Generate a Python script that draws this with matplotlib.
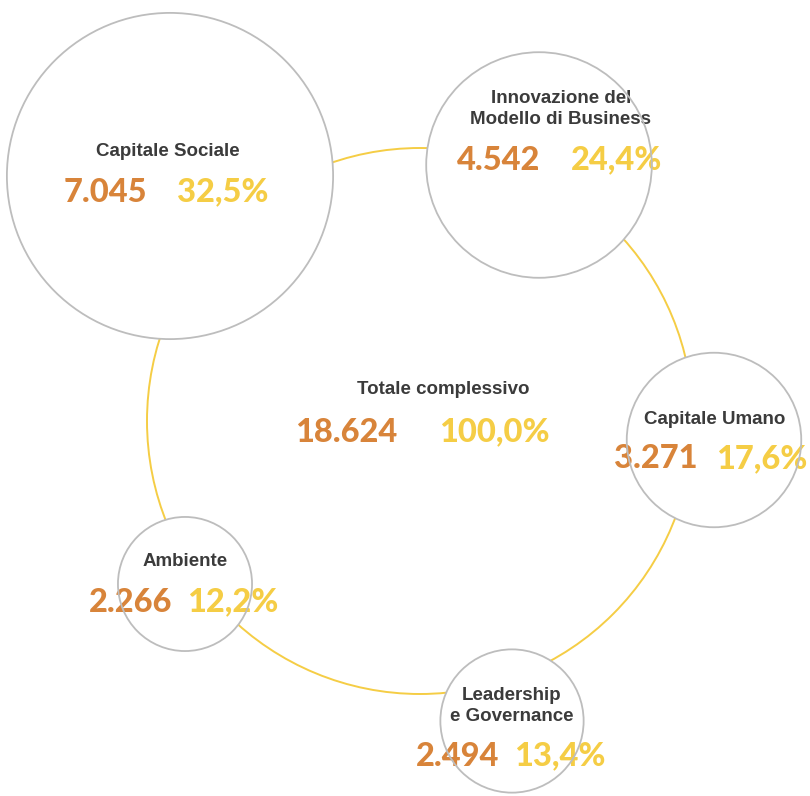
import matplotlib.pyplot as plt
from matplotlib.patches import Circle

# data
names = ["Capitale Sociale", "Innovazione del\nModello di Business", "Capitale Umano",
         "Leadership\ne Governance", "Ambiente"]
values = [7045, 4542, 3271, 2494, 2266]
value_labels = ["7.045", "4.542", "3.271", "2.494", "2.266"]
pct_labels = ["32,5%", "24,4%", "17,6%", "13,4%", "12,2%"]
total_name = "Totale complessivo"
total_label = "18.624"
total_pct = "100,0%"

# layout (pixel coords, y down)
centers = [(170, 176), (539, 165), (714, 440), (512, 721), (185, 584)]
title_off = [(-2, -24), (22, -56), (1, -20), (0, -15), (0, -22)]
num_dy = [16, -5, 19, 35, 18]
num_dx = [(-65, 53), (-40, 78), (-58, 48), (-54, 48), (-54, 48)]
ring_center = (420, 421)
ring_radius = 273

orange = "#D8843A"
yellow = "#F5CD45"
grey_text = "#3b3b3b"
outline = "#BDBDBD"

def radius(v):
    # linear size scale fitted to the drawing
    return 21.5 + 0.0201 * v

fig = plt.figure(figsize=(8.10, 7.96), dpi=100)
ax = fig.add_axes([0, 0, 1, 1])
ax.set_xlim(0, 810)
ax.set_ylim(796, 0)
ax.set_aspect("equal")
ax.axis("off")

ax.add_patch(Circle(ring_center, ring_radius, fill=False, ec=yellow, lw=1.4, zorder=1))

title_font = dict(family="Liberation Sans", weight="bold", size=13.5, color=grey_text,
                  ha="center", va="center", linespacing=1.25)
num_font = dict(family="Lato", weight=900, size=23.5, ha="center", va="center")

for (cx, cy), name, v, vl, pl, (tdx, tdy), ndy, (dx1, dx2) in zip(
        centers, names, values, value_labels, pct_labels, title_off, num_dy, num_dx):
    r = radius(v)
    ax.add_patch(Circle((cx, cy), r, fc="white", ec="none", zorder=2))
    ax.add_patch(Circle((cx, cy), r, fill=False, ec=outline, lw=1.3, zorder=4))
    ax.text(cx + tdx, cy + tdy, name, zorder=3, **title_font)
    ax.text(cx + dx1, cy + ndy, vl, color=orange, zorder=3, **num_font)
    ax.text(cx + dx2, cy + ndy, pl, color=yellow, zorder=3, **num_font)

ax.text(443, 390, total_name, zorder=3, **title_font)
ax.text(346, 432, total_label, color=orange, zorder=3, **num_font)
ax.text(494, 432, total_pct, color=yellow, zorder=3, **num_font)

fig.savefig("out.png", dpi=100, facecolor="white")
